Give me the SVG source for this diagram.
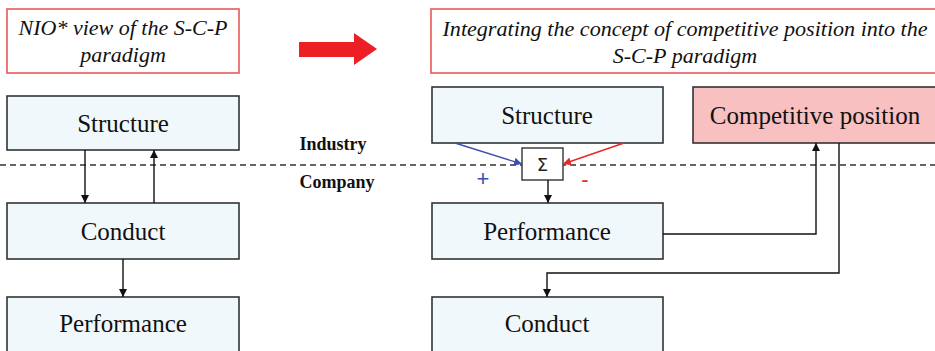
<svg xmlns="http://www.w3.org/2000/svg" width="935" height="351" viewBox="0 0 935 351">
<style>
.title{fill:#fff;stroke:#e8585c;stroke-width:1.6}
.node{fill:#f1f8fc;stroke:#333;stroke-width:1.6}
.pink{fill:#f8c0c0;stroke:#333;stroke-width:1.6}
.tt{font-family:"Liberation Serif",serif;font-style:italic;font-size:22px;fill:#111;text-anchor:middle}
.nt{font-family:"Liberation Serif",serif;font-size:25px;fill:#111;text-anchor:middle}
.lbl{font-family:"Liberation Serif",serif;font-weight:bold;font-size:18px;fill:#111;text-anchor:middle}
.c{fill:none;stroke:#111;stroke-width:1.4}
</style>
<defs>
<marker id="ah" viewBox="0 0 10 10" refX="10" refY="5" markerWidth="8" markerHeight="8" markerUnits="userSpaceOnUse" orient="auto"><path d="M0,0L10,5L0,10z" fill="#111"/></marker>
<marker id="ahb" viewBox="0 0 10 10" refX="10" refY="5" markerWidth="8" markerHeight="8" markerUnits="userSpaceOnUse" orient="auto"><path d="M0,0L10,5L0,10z" fill="#3a4fb0"/></marker>
<marker id="ahr" viewBox="0 0 10 10" refX="10" refY="5" markerWidth="8" markerHeight="8" markerUnits="userSpaceOnUse" orient="auto"><path d="M0,0L10,5L0,10z" fill="#e82828"/></marker>
</defs>
<rect width="935" height="351" fill="#fff"/>
<line x1="0" y1="165" x2="935" y2="165" stroke="#333" stroke-width="1.3" stroke-dasharray="6,4"/>

<g id="title-left"><rect class="title" x="7" y="9" width="232" height="64"/>
<text class="tt" x="123" y="35">NIO* view of the S-C-P</text><text class="tt" x="123" y="62">paradigm</text></g>
<g id="big-arrow"><path d="M299,42H354V33L377,49L354,65V57H299Z" fill="#ec2024"/></g>
<g id="title-right"><rect class="title" x="431" y="9" width="510" height="64"/>
<text class="tt" x="685" y="36" textLength="485" lengthAdjust="spacingAndGlyphs">Integrating the concept of competitive position into the</text><text class="tt" x="685" y="63">S-C-P paradigm</text></g>

<g id="l-structure"><rect class="node" x="7" y="96" width="232" height="54"/><text class="nt" x="123" y="132">Structure</text></g>
<g id="l-conduct"><rect class="node" x="7" y="203" width="232" height="56"/><text class="nt" x="123" y="240">Conduct</text></g>
<g id="l-performance"><rect class="node" x="7" y="297" width="232" height="56"/><text class="nt" x="123" y="332">Performance</text></g>

<g id="labels"><text class="lbl" x="333" y="150">Industry</text><text class="lbl" x="337" y="188">Company</text></g>

<g id="r-structure"><rect class="node" x="432" y="87" width="231" height="56"/><text class="nt" x="547" y="124">Structure</text></g>
<g id="r-competitive"><rect class="pink" x="693" y="87" width="250" height="56"/><text class="nt" x="815" y="124">Competitive position</text></g>
<g id="sigma"><rect x="522" y="148" width="41" height="32" fill="#fff" stroke="#333" stroke-width="1.4"/><text x="542.5" y="171" font-family="'DejaVu Sans',sans-serif" font-size="18" fill="#222" text-anchor="middle">Σ</text></g>
<g id="r-performance"><rect class="node" x="432" y="203" width="231" height="56"/><text class="nt" x="547" y="240">Performance</text></g>
<g id="r-conduct"><rect class="node" x="432" y="297" width="231" height="56"/><text class="nt" x="547" y="332">Conduct</text></g>

<g id="connectors">
<line class="c" x1="85" y1="150" x2="85" y2="203" marker-end="url(#ah)"/>
<line class="c" x1="154" y1="203" x2="154" y2="150" marker-end="url(#ah)"/>
<line class="c" x1="123" y1="259" x2="123" y2="297" marker-end="url(#ah)"/>
<line x1="455" y1="143" x2="522" y2="164" stroke="#3a4fb0" stroke-width="1.4" marker-end="url(#ahb)"/>
<line x1="624" y1="143" x2="563" y2="164" stroke="#e82828" stroke-width="1.4" marker-end="url(#ahr)"/>
<line class="c" x1="548" y1="180" x2="548" y2="203" marker-end="url(#ah)"/>
<polyline class="c" points="663,234 816,234 816,143" marker-end="url(#ah)"/>
<polyline class="c" points="839,143 839,273 547,273 547,297" marker-end="url(#ah)"/>
<text x="483" y="186" font-family="'Liberation Sans',sans-serif" font-size="22" fill="#3a4fb0" text-anchor="middle">+</text>
<text x="585" y="187" font-family="'Liberation Sans',sans-serif" font-size="22" fill="#e82828" text-anchor="middle">-</text>
</g>
</svg>
